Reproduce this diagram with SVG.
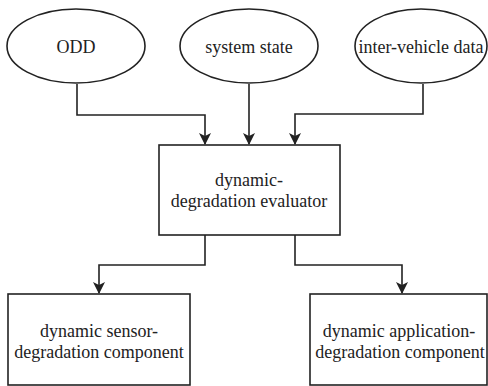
<svg xmlns="http://www.w3.org/2000/svg" width="488" height="386" viewBox="0 0 488 386">
<defs>
<marker id="arr" markerWidth="12" markerHeight="14" refX="11" refY="6" orient="auto" markerUnits="userSpaceOnUse">
<path d="M0,0 L12,6 L0,12 L3,6 Z" fill="#222"/>
</marker>
</defs>
<rect width="488" height="386" fill="#fff"/>
<g id="connectors" fill="none" stroke="#222" stroke-width="1.6">
<path d="M77,84 V115 H205 V144" marker-end="url(#arr)"/>
<path d="M249,84 V144" marker-end="url(#arr)"/>
<path d="M423,84 V114 H295 V144" marker-end="url(#arr)"/>
<path d="M205,235 V265 H99 V293" marker-end="url(#arr)"/>
<path d="M295,235 V265 H402 V293" marker-end="url(#arr)"/>
</g>
<g id="odd">
<ellipse cx="76" cy="46" rx="69" ry="37" fill="#fff" stroke="#222" stroke-width="1.6"/>
<text x="76" y="53" font-family="Liberation Serif" font-size="18" fill="#222" text-anchor="middle">ODD</text>
</g>
<g id="system-state">
<ellipse cx="249" cy="46" rx="69" ry="37" fill="#fff" stroke="#222" stroke-width="1.6"/>
<text x="249" y="53" font-family="Liberation Serif" font-size="18" fill="#222" text-anchor="middle">system state</text>
</g>
<g id="inter-vehicle-data">
<ellipse cx="421" cy="46" rx="66" ry="37" fill="#fff" stroke="#222" stroke-width="1.6"/>
<text x="421" y="53" font-family="Liberation Serif" font-size="18" fill="#222" text-anchor="middle">inter-vehicle data</text>
</g>
<g id="evaluator">
<rect x="159" y="145" width="181" height="90" fill="#fff" stroke="#222" stroke-width="1.6"/>
<text x="249" y="186" font-family="Liberation Serif" font-size="18" fill="#222" text-anchor="middle">dynamic-</text>
<text x="249" y="207" font-family="Liberation Serif" font-size="18" fill="#222" text-anchor="middle">degradation evaluator</text>
</g>
<g id="sensor-component">
<rect x="8" y="294" width="182" height="91" fill="#fff" stroke="#222" stroke-width="1.6"/>
<text x="99" y="337" font-family="Liberation Serif" font-size="18" fill="#222" text-anchor="middle">dynamic sensor-</text>
<text x="99" y="358" font-family="Liberation Serif" font-size="18" fill="#222" text-anchor="middle">degradation component</text>
</g>
<g id="application-component">
<rect x="310" y="294" width="177" height="91" fill="#fff" stroke="#222" stroke-width="1.6"/>
<text x="399" y="337" font-family="Liberation Serif" font-size="18" fill="#222" text-anchor="middle">dynamic application-</text>
<text x="400" y="358" font-family="Liberation Serif" font-size="18" fill="#222" text-anchor="middle">degradation component</text>
</g>
</svg>
